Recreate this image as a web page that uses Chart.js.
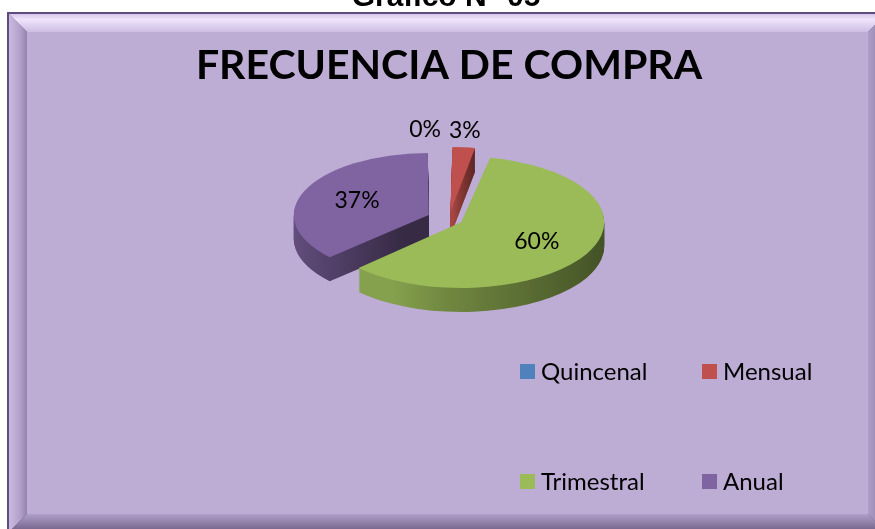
<!DOCTYPE html>
<html>
<head>
<meta charset="utf-8">
<script src="https://cdn.jsdelivr.net/npm/chart.js@4.4.1/dist/chart.umd.min.js"></script>
<style>
  body { margin: 0; width: 875px; height: 529px; overflow: hidden; background: #fff; position: relative; }
  #chart { position: absolute; left: 0; top: 0; }
  #caption { position: absolute; left: 0; top: -19px; width: 892px; text-align: center;
             font: bold 30px "Liberation Sans", Arial, sans-serif; line-height: 30px; color: #000; }
  #legend { position: absolute; left: 520px; top: 358px; display: grid;
            grid-template-columns: 182px 182px; row-gap: 84px; font-family: Lato, sans-serif; }
  #legend .item { display: flex; align-items: center; height: 26px; font-size: 24px; line-height: 26px; color: #000; }
  #legend .box { width: 15px; height: 15px; margin-right: 6px; }
</style>
</head>
<body>
<canvas id="chart" width="875" height="529"></canvas>
<div id="caption">Gráfico N° 05</div>
<div id="legend"></div>
<script>
const categories = ['Quincenal', 'Mensual', 'Trimestral', 'Anual'];
const values = [0, 3, 60, 37];
const colors = ['#4f81bd', '#c0504d', '#9bbb59', '#8064a2'];

const TILT = 0.46;    // vertical squash of the pie
const DEPTH = 24;     // thickness of the 3d side
const EXPLODE = 28;   // how far slices are pulled out
const total = values.reduce((a, b) => a + b, 0);

function shade(hex, f) {
  const n = parseInt(hex.slice(1), 16);
  const r = Math.round(((n >> 16) & 255) * f);
  const g = Math.round(((n >> 8) & 255) * f);
  const b = Math.round((n & 255) * f);
  return 'rgb(' + r + ',' + g + ',' + b + ')';
}

// chart.js shifts an arc by offset/4*(1+fix); undo that so every slice moves EXPLODE px
function fixOf(circ) {
  return 1 - Math.sin(Math.min(Math.PI, circ || 0));
}
function realShift(arc) {
  return (arc.options.offset || 0) / 4 * (1 + fixOf(arc.circumference));
}

const frame = {
  id: 'frame',
  beforeDraw(chart) {
    const { ctx, width, height } = chart;
    ctx.save();
    ctx.fillStyle = '#ffffff';
    ctx.fillRect(0, 0, width, height);
    const x0 = 7, y0 = 12, x1 = width + 13, y1 = height + 5, b = 2, w = 18;
    ctx.fillStyle = '#5f4b7e';
    ctx.fillRect(x0, y0, x1 - x0, y1 - y0);
    const ax = x0 + b, ay = y0 + b, bx = x1 - b, by = y1 - b;
    function poly(pts, fill) {
      ctx.beginPath();
      ctx.moveTo(pts[0][0], pts[0][1]);
      pts.slice(1).forEach(p => ctx.lineTo(p[0], p[1]));
      ctx.closePath();
      ctx.fillStyle = fill;
      ctx.fill();
    }
    let g = ctx.createLinearGradient(0, ay, 0, ay + w);
    g.addColorStop(0, '#d6c6ea'); g.addColorStop(0.3, '#efe4fd'); g.addColorStop(1, '#cdbde2');
    poly([[ax, ay], [bx, ay], [bx - w, ay + w], [ax + w, ay + w]], g);
    g = ctx.createLinearGradient(ax, 0, ax + w, 0);
    g.addColorStop(0, '#cbbadf'); g.addColorStop(0.6, '#b3a1cb'); g.addColorStop(1, '#9583ae');
    poly([[ax, ay], [ax + w, ay + w], [ax + w, by - w], [ax, by]], g);
    g = ctx.createLinearGradient(bx - w, 0, bx, 0);
    g.addColorStop(0, '#ae9dc6'); g.addColorStop(1, '#8a79a2');
    poly([[bx, ay], [bx, by], [bx - w, by - w], [bx - w, ay + w]], g);
    g = ctx.createLinearGradient(0, by - w, 0, by);
    g.addColorStop(0, '#b09fc8'); g.addColorStop(0.5, '#8f7ea6'); g.addColorStop(1, '#6f5f86');
    poly([[ax, by], [ax + w, by - w], [bx - w, by - w], [bx, by]], g);
    ctx.fillStyle = '#bdacd3';
    ctx.fillRect(ax + w, ay + w, bx - ax - 2 * w, by - ay - 2 * w);
    ctx.restore();
  }
};

const pie3d = {
  id: 'pie3d',
  beforeDatasetsDraw(chart) {
    const ctx = chart.ctx;
    const arcs = chart.getDatasetMeta(0).data;
    const cx = arcs[0].x, cy = arcs[0].y;
    const flatten = dy => {
      ctx.translate(0, dy);
      ctx.translate(cx, cy);
      ctx.scale(1, TILT);
      ctx.translate(-cx, -cy);
    };
    // side fill for each slice, darker to the right
    const sides = arcs.map((arc, i) => {
      const mid = (arc.startAngle + arc.endAngle) / 2;
      const s = realShift(arc);
      const ox = cx + Math.cos(mid) * s;
      let lo = ox, hi = ox;
      for (let k = 0; k <= 40; k++) {
        const a = arc.startAngle + (arc.endAngle - arc.startAngle) * k / 40;
        const x = ox + Math.cos(a) * arc.outerRadius;
        lo = Math.min(lo, x); hi = Math.max(hi, x);
      }
      const g = ctx.createLinearGradient(lo, 0, hi + 1, 0);
      g.addColorStop(0, shade(colors[i], 0.86));
      g.addColorStop(0.25, shade(colors[i], 0.72));
      g.addColorStop(1, shade(colors[i], 0.42));
      return g;
    });
    for (let d = DEPTH; d >= 1; d--) {
      ctx.save();
      flatten(d);
      arcs.forEach((arc, i) => {
        const ghost = Object.create(arc);
        ghost.options = Object.assign({}, arc.options, { backgroundColor: sides[i], borderWidth: 0 });
        arc.draw.call(ghost, ctx);
      });
      ctx.restore();
    }
    ctx.save();
    flatten(0);
  },
  afterDatasetsDraw(chart) {
    const ctx = chart.ctx;
    ctx.restore();
    const arcs = chart.getDatasetMeta(0).data;
    const cx = arcs[0].x, cy = arcs[0].y;
    ctx.save();
    ctx.font = '23px Lato, sans-serif';
    ctx.fillStyle = '#000';
    arcs.forEach((arc, i) => {
      const v = values[i];
      const mid = (arc.startAngle + arc.endAngle) / 2;
      const s = realShift(arc);
      const text = Math.round(v / total * 100) + '%';
      if (v / total < 0.05) {
        const r = s + arc.outerRadius + 12;
        let x = cx + Math.cos(mid) * r;
        const y = cy + Math.sin(mid) * r * TILT;
        ctx.textBaseline = 'bottom';
        if (v === 0) { ctx.textAlign = 'right'; x -= 8; } else { ctx.textAlign = 'center'; }
        ctx.fillText(text, x, y);
      } else {
        const r = s + arc.outerRadius * 0.56;
        ctx.textAlign = 'center';
        ctx.textBaseline = 'middle';
        ctx.fillText(text, cx + Math.cos(mid) * r, cy + Math.sin(mid) * r * TILT);
      }
    });
    ctx.restore();
  }
};

const chart = new Chart(document.getElementById('chart'), {
  type: 'pie',
  data: {
    labels: categories,
    datasets: [{
      data: values,
      backgroundColor: colors,
      borderWidth: 0,
      radius: 129,
      offset: c => {
        const circ = values[c.dataIndex] / total * 2 * Math.PI;
        return EXPLODE * 4 / (1 + fixOf(circ));
      }
    }]
  },
  options: {
    responsive: false,
    animation: false,
    events: [],
    layout: { padding: { left: 23, right: 0, top: 0, bottom: 181 } },
    plugins: {
      legend: { display: false },
      tooltip: { enabled: false },
      title: {
        display: true,
        text: 'FRECUENCIA DE COMPRA',
        color: '#000',
        font: { family: 'Lato', size: 41, weight: 'bold' },
        padding: { top: 41, bottom: 0 }
      }
    }
  },
  plugins: [frame, pie3d]
});

// legend built from the chart data
const legend = document.getElementById('legend');
chart.data.labels.forEach((lab, i) => {
  const item = document.createElement('div');
  item.className = 'item';
  const box = document.createElement('span');
  box.className = 'box';
  box.style.background = chart.data.datasets[0].backgroundColor[i];
  item.appendChild(box);
  item.appendChild(document.createTextNode(lab));
  legend.appendChild(item);
});
</script>
</body>
</html>
